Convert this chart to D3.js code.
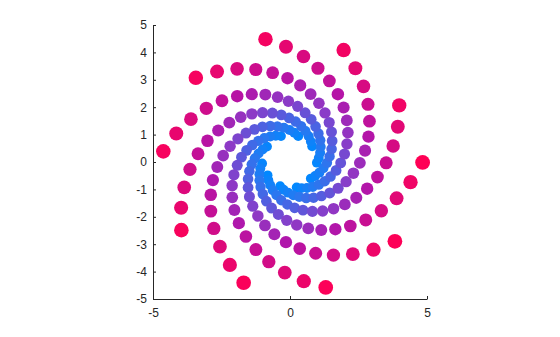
<!DOCTYPE html>
<html><head><meta charset="utf-8">
<script src="https://cdn.jsdelivr.net/npm/d3@7"></script>
<style>body{margin:0;background:#fff}svg{display:block}</style>
</head><body>
<svg id="chart" width="560" height="337"></svg>
<script>
// Ten spiral arms; each point read as (angle in degrees, radius in data units)
const armAngles = [
  [210.7,220.0,229.3,238.6,247.9,257.2,266.5,275.8,285.1,294.4,303.7,313.0,322.3,331.6,340.9,350.2,359.5,368.8,378.1,387.4],
  [247.7,257.0,266.3,275.6,284.9,294.2,303.5,312.8,322.1,331.4,340.7,350.0,359.3,368.6,377.9,387.2,396.5,405.8,415.1,424.4],
  [284.6,293.9,303.2,312.5,321.8,331.1,340.4,349.7,359.0,368.3,377.6,386.9,396.2,405.5,414.8,424.1,433.4,442.7,452.0,461.3],
  [321.5,330.8,340.1,349.4,358.7,368.0,377.3,386.6,395.9,405.2,414.5,423.8,433.1,442.4,451.7,461.0,470.3,479.6,488.9,498.2],
  [358.5,367.8,377.1,386.4,395.7,405.0,414.3,423.6,432.9,442.2,451.5,460.8,470.1,479.4,488.7,498.0,507.3,516.6,525.9,535.2],
  [35.4,44.7,54.0,63.3,72.6,81.9,91.2,100.5,109.8,119.1,128.4,137.7,147.0,156.3,165.6,174.9,184.2,193.5,202.8,212.1],
  [72.3,81.6,90.9,100.2,109.5,118.8,128.1,137.4,146.7,156.0,165.3,174.6,183.9,193.2,202.5,211.8,221.1,230.4,239.7,249.0],
  [109.2,118.5,127.8,137.1,146.4,155.7,165.0,174.3,183.6,192.9,202.2,211.5,220.8,230.1,239.4,248.7,258.0,267.3,276.6,285.9],
  [146.2,155.5,164.8,174.1,183.4,192.7,202.0,211.3,220.6,229.9,239.2,248.5,257.8,267.1,276.4,285.7,295.0,304.3,313.6,322.9],
  [183.1,192.4,201.7,211.0,220.3,229.6,238.9,248.2,257.5,266.8,276.1,285.4,294.7,304.0,313.3,322.6,331.9,341.2,350.5,359.8]
];
const armRadii = [
  [0.95,1.03,1.11,1.21,1.31,1.43,1.55,1.68,1.82,1.98,2.15,2.33,2.53,2.75,2.98,3.24,3.51,3.81,4.14,4.49],
  [0.95,1.04,1.12,1.22,1.32,1.44,1.56,1.69,1.84,2.00,2.17,2.35,2.55,2.77,3.01,3.26,3.54,3.85,4.17,4.53],
  [0.96,1.04,1.13,1.23,1.34,1.45,1.57,1.71,1.85,2.01,2.18,2.37,2.57,2.79,3.03,3.29,3.57,3.88,4.21,4.57],
  [0.97,1.05,1.14,1.24,1.35,1.46,1.59,1.72,1.87,2.03,2.20,2.39,2.59,2.82,3.06,3.32,3.60,3.91,4.24,4.61],
  [0.98,1.06,1.15,1.25,1.36,1.47,1.60,1.74,1.88,2.05,2.22,2.41,2.62,2.84,3.08,3.34,3.63,3.94,4.28,4.64],
  [0.99,1.07,1.16,1.26,1.37,1.49,1.61,1.75,1.90,2.06,2.24,2.43,2.64,2.86,3.11,3.37,3.66,3.97,4.31,4.68],
  [0.99,1.08,1.17,1.27,1.38,1.50,1.63,1.76,1.92,2.08,2.26,2.45,2.66,2.89,3.13,3.40,3.69,4.01,4.35,4.72],
  [1.00,1.09,1.18,1.28,1.39,1.51,1.64,1.78,1.93,2.10,2.28,2.47,2.68,2.91,3.16,3.43,3.72,4.04,4.38,4.76],
  [1.01,1.10,1.19,1.29,1.40,1.52,1.65,1.79,1.95,2.11,2.29,2.49,2.70,2.93,3.18,3.46,3.75,4.07,4.42,4.80],
  [1.02,1.11,1.20,1.30,1.41,1.53,1.67,1.81,1.96,2.13,2.31,2.51,2.73,2.96,3.21,3.48,3.78,4.11,4.46,4.84]
];
const xTicks = [-5, 0, 5];
const yTicks = [-5, -4, -3, -2, -1, 0, 1, 2, 3, 4, 5];

const svg = d3.select("#chart");
const x = d3.scaleLinear().domain([-5, 5]).range([153, 427]);
const y = d3.scaleLinear().domain([-5, 5]).range([299, 25]);

const pts = [];
armAngles.forEach((arm, k) => arm.forEach((a, j) => {
  const r = armRadii[k][j];
  const t = a * Math.PI / 180;
  pts.push({ r, px: r * Math.cos(t), py: r * Math.sin(t) });
}));
pts.sort((p, q) => p.r - q.r);

const rExt = d3.extent(pts, d => d.r);
const color = d3.scaleLinear()
  .domain([rExt[0], 1.3, 2.2, 3.0, rExt[1]])
  .range(["#0088ff", "#2a78f0", "#8a3cc8", "#b414a8", "#ff0055"])
  .interpolate(d3.interpolateRgb);
const size = d3.scaleLinear().domain([1, 4.84]).range([4.9, 7.4]);

svg.append("g").selectAll("circle").data(pts).join("circle")
  .attr("cx", d => x(d.px))
  .attr("cy", d => y(d.py))
  .attr("r", d => size(d.r))
  .attr("fill", d => color(d.r));

const yAxis = svg.append("g").attr("transform", `translate(${x(-5)},0)`)
  .call(d3.axisLeft(y).tickValues(yTicks).tickFormat(d3.format("d"))
    .tickSizeInner(-3).tickSizeOuter(0).tickPadding(6));
const xAxis = svg.append("g").attr("transform", `translate(0,${y(-5)})`)
  .call(d3.axisBottom(x).tickValues(xTicks).tickFormat(d3.format("d"))
    .tickSizeInner(-3).tickSizeOuter(0).tickPadding(9));

[yAxis, xAxis].forEach(g => {
  g.attr("font-family", "'Liberation Sans', Arial, sans-serif").attr("font-size", 12);
  g.selectAll("path, line").attr("stroke", "#262626");
  g.selectAll("text").attr("fill", "#262626");
});
svg.selectAll(".tick text").text(d => String(d).replace("\u2212", "-"));
</script>
</body></html>
